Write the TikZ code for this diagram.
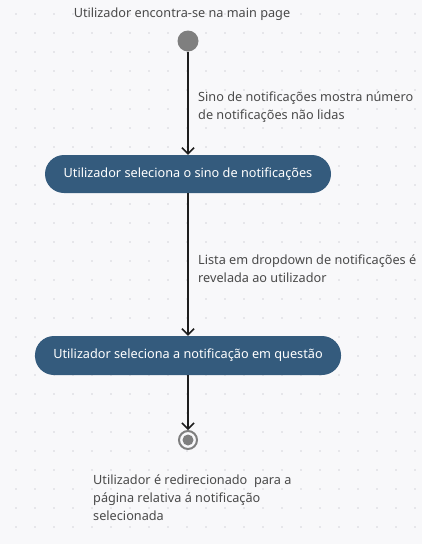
\documentclass[tikz,border=0pt]{standalone}
\usepackage{fontspec}
\setmainfont{Noto Sans}
\usetikzlibrary{arrows.meta}

\definecolor{fundo}{HTML}{F8F8FA}
\definecolor{ponto}{HTML}{D4D4DA}
\definecolor{caixa}{HTML}{345B7D}
\definecolor{cinza}{HTML}{7F7F7F}
\definecolor{texto}{HTML}{4A4A4A}
\definecolor{traco}{HTML}{1E1E1E}

\tikzset{
	estado/.style={draw=none, fill=caixa, rounded corners=19pt, text=white, inner sep=0pt, font=\fontsize{12.7}{14}\selectfont},
	inicio/.style={circle, fill=cinza, inner sep=0pt, minimum size=21pt},
	fim/.style={circle, draw=cinza, line width=2pt, fill=fundo, inner sep=0pt, minimum size=18pt},
	legenda/.style={text=texto, align=left, inner sep=0pt, font=\fontsize{12.7}{18}\selectfont},
	seta/.style={draw=traco, line width=1.5pt, -{Straight Barb[length=6pt,width=12pt]}},
}

\begin{document}
\begin{tikzpicture}[x=1pt, y=-1pt]
			%%%%% START %%%%%
			
			\useasboundingbox[fill=fundo] (0,0) rectangle (422,544);
			\foreach \i in {0,...,21}
				\foreach \j in {0,...,27}
					\fill[ponto] (16+19*\i, 14+19*\j) circle (0.9);
			
			\node[legenda, anchor=base] (titulo) at (182, 17) {Utilizador encontra-se na main page};
			\node[inicio] (start) at (188, 41) {};
			
			\node[estado, minimum width=286pt, minimum height=38pt] (sino) at (188, 174) {Utilizador seleciona o sino de notificações};
			\node[estado, minimum width=306pt, minimum height=39pt] (notif) at (188, 355.5) {Utilizador seleciona a notificação em questão};
			
			\node[fim] (end) at (188, 440) {};
			\fill[cinza] (end.center) circle (5.5);
			
			\draw[seta] (start) -- (sino);
			\draw[seta] (sino) -- (notif);
			\draw[seta] (notif) -- (end);
			
			\node[legenda, anchor=north west] (l1) at (198, 92) {Sino de notificações mostra número\\de notificações não lidas};
			\node[legenda, anchor=north west] (l2) at (198, 255) {Lista em dropdown de notificações é\\revelada ao utilizador};
			\node[legenda, anchor=north west] (l3) at (93, 475) {Utilizador é redirecionado\ \ para a\\página relativa á notificação\\selecionada};
			
			%%%%% END %%%%%
		\end{tikzpicture}
\end{document}
